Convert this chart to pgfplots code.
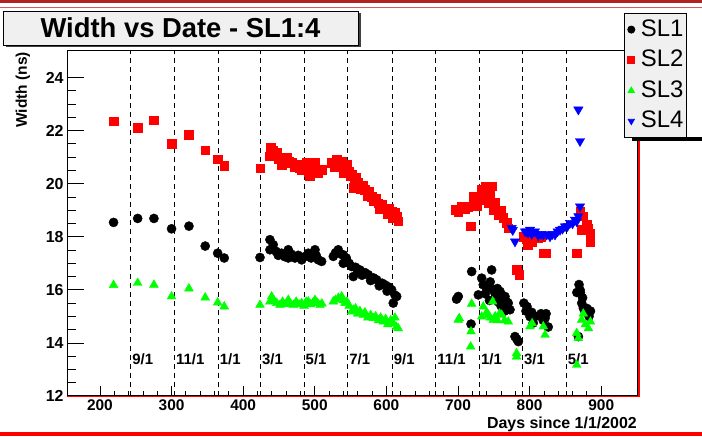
\documentclass[border=0pt]{standalone}
\usepackage{pgfplots}
\pgfplotsset{compat=1.18}
\usepackage{fontspec}
\setmainfont{Liberation Sans}
\definecolor{boxgray}{RGB}{240,240,240}
\definecolor{rootgreen}{RGB}{0,255,0}
\definecolor{rootblue}{RGB}{0,0,255}
\definecolor{rootred}{RGB}{255,0,0}
\definecolor{darkred}{RGB}{175,35,35}
\definecolor{pinkred}{RGB}{215,90,90}
\begin{document}
\begin{tikzpicture}[x=1bp,y=1bp]
\path[use as bounding box] (0,0) rectangle (702,439);
% canvas borders
\fill[darkred] (0,436.3) rectangle (702,439);
\fill[pinkred] (0,430.6) rectangle (702,432.2);
\fill[rootred] (0,3.3) rectangle (702,6.5);
% title box
\fill[black!75] (5.5,392) rectangle (360.5,426);
\filldraw[fill=boxgray, draw=black, line width=0.8] (3,394) rectangle (358,428);
\node[font=\bfseries\fontsize{27.5}{33}\selectfont] at (180.5,411) {Width vs Date - SL1:4};
% y label
\node[rotate=90, anchor=east, font=\bfseries\fontsize{15.5}{18}\selectfont, inner sep=0pt] at (23,387) {Width (ns)};
% x label
\node[anchor=east, font=\bfseries\fontsize{16}{19}\selectfont, inner sep=0pt] at (637,15) {Days since 1/1/2002};

% axis for x ticks
\begin{axis}[
  at={(67bp,43bp)}, anchor=south west, scale only axis, width=570bp, height=345bp,
  xmin=154, xmax=950, ymin=12, ymax=25,
  axis line style={line width=1bp},
  tick align=inside, xtick pos=left, ytick=\empty,
  xtick={200,300,...,900}, minor x tick num=4,
  major tick length=10bp, minor tick length=5bp,
  tick style={black, line width=0.8bp},
  xticklabel style={font=\bfseries\fontsize{15.5}{18}\selectfont},
  /pgf/number format/assume math mode=true,
]
\end{axis}

% main axis
\begin{axis}[
  at={(67bp,43bp)}, anchor=south west, scale only axis, width=570bp, height=345bp,
  xmin=154, xmax=950, ymin=12, ymax=25,
  axis line style={line width=1bp},
  tick align=inside, ytick pos=left, xtick=\empty,
  ytick={12,14,...,24}, minor y tick num=3,
  major tick length=17bp, minor tick length=8.5bp,
  tick style={black, line width=0.8bp},
  yticklabel style={font=\bfseries\fontsize{16}{18}\selectfont},
  /pgf/number format/assume math mode=true,
  clip=false,
  legend image code/.code={\draw[#1, mark size=3.6] plot coordinates {(0bp,0bp)};},
  legend cell align=left,
  legend style={at={(0.9777,1.111)}, anchor=north west, fill=boxgray, draw=black,
    line width=0.8bp, font=\fontsize{24}{28}\selectfont,
    inner xsep=3bp, inner ysep=6bp, row sep=9.5bp,
    nodes={inner sep=0bp, text height=17bp, text depth=4bp},
    /tikz/every odd column/.append style={column sep=6bp}},
]
% month separators
\foreach \d/\lab in {243/9\slash 1,304/11\slash 1,365/1\slash 1,424/3\slash 1,485/5\slash 1,546/7\slash 1,608/9\slash 1,669/11\slash 1,730/1\slash 1,790/3\slash 1,851/5\slash 1}{
  \edef\tmp{\noexpand\draw[black, line width=1bp, dash pattern=on 5bp off 4bp] (axis cs:\d,12) -- (axis cs:\d,25);}\tmp
  \edef\tmp{\noexpand\node[anchor=west, inner sep=1.5bp, font=\noexpand\bfseries\noexpand\fontsize{15}{18}\noexpand\selectfont] at (axis cs:\d,13.4) {\lab};}\tmp
}

\addplot[only marks, mark=*, mark size=4.6, black] coordinates {
(219,18.54) (252.7,18.69) (275.4,18.69) (300,18.30) (324.3,18.40) (347,17.65) (364.4,17.38) (373.6,17.20)
(423.5,17.22) (437.4,17.89) (437.4,17.51) (442,17.70) (446,17.45) (449,17.30) (453.7,17.38) (458,17.25)
(463,17.51) (463,17.20) (467,17.35) (472.3,17.20) (477,17.30) (481.7,17.13) (486,17.25) (490.9,17.38)
(495,17.20) (500.3,17.51) (502,17.30) (504.9,17.13) (509.6,17.07) (525.9,17.26) (529,17.40) (532.8,17.51)
(536,17.35) (539.8,17.32) (539.8,17.00) (544,17.20) (548,17.00) (551.5,16.88) (553.8,16.50) (557,16.85)
(560,16.70) (563,16.75) (566,16.55) (570,16.65) (574.7,16.57) (578,16.35) (582,16.45) (586.4,16.38)
(590,16.15) (594,16.25) (598,16.19) (601,15.95) (604,16.10) (607.4,16.00) (609.6,15.50) (612,15.80) (614.4,15.75)
(698,15.65) (700.4,15.75) (719.1,16.69) (718.2,14.71) (728.4,15.81) (733.1,16.44) (735.3,16.19) (738,15.85)
(740.1,16.06) (744,15.60) (745,16.30) (747,16.75) (749.3,16.00) (752,15.85) (755,16.05) (756,15.55)
(758.7,15.94) (760,15.40) (762,15.70) (765.6,15.75) (765,15.20) (768,15.55) (770.2,15.50) (772.6,15.25)
(779.6,14.24) (782,14.15) (784.3,14.05) (792,15.50) (795,15.20) (796.4,15.37) (800.6,14.99) (803,15.15)
(805,14.75) (808,15.00) (816,15.10) (819,14.85) (821.6,14.93) (823,15.10) (826,14.60)
(866,15.90) (868.1,14.24) (869,16.20) (870.4,16.00) (871,15.90) (872.8,15.50) (874,15.70) (875.1,15.31)
(877.4,15.18) (880,15.30) (883,15.00) (885,15.20)
};
\addlegendentry{SL1\hspace{40bp}}

\addplot[only marks, mark=square*, mark size=4.3, rootred] coordinates {
(219,22.35) (252.7,22.10) (275.4,22.40) (300,21.50) (324.3,21.84) (347,21.26) (364.4,20.93) (373.6,20.68)
(423.5,20.59) (437.4,21.03) (438.8,21.35) (442,21.25) (446.8,21.16) (450,20.95) (453.7,20.72) (457,20.85)
(460.7,20.97) (464,20.85) (467.7,20.78) (471,20.65) (474.7,20.72) (478,20.60) (481.7,20.53) (485,20.70)
(488.7,20.78) (491,20.45) (493.3,20.28) (497,20.60) (500.3,20.78) (503,20.55) (505,20.40) (509.6,20.53)
(523.6,20.78) (527,20.65) (530.6,20.90) (534,20.75) (537.6,20.84) (539.8,20.40) (542,20.60) (544.5,20.72)
(547,20.45) (549.2,20.28) (551.5,20.34) (553.8,19.84) (556,20.15) (558,20.25) (560.8,20.03) (564,19.80)
(567,19.95) (570.1,19.77) (573,19.55) (576,19.70) (579.5,19.52) (582,19.35) (585,19.45) (588.7,19.27)
(591,19.05) (594,19.20) (598,19.08) (601,18.85) (604,19.05) (607.4,18.96) (609,18.70) (612,18.90)
(614.4,18.77) (616.6,18.58)
(695.8,19.02) (700,18.95) (705.1,19.14) (710,19.05) (714.4,19.14) (717.7,18.39) (721.4,19.52) (723.7,19.27)
(727,19.15) (733.1,19.77) (733.1,19.40) (737.7,19.90) (742.3,19.27) (745,19.55) (747,19.90) (749.3,19.02)
(752,19.30) (756.3,18.83) (760,19.00) (763.3,18.71) (768,18.52) (770.2,18.33) (781.8,16.75) (785.6,16.57)
(791.9,18.01) (795,17.90) (797,17.70) (800.6,17.82) (803.5,17.82) (808,18.05) (812,17.95) (815.1,18.01)
(819.2,17.38) (822.1,17.38) (865.8,17.38) (870.4,18.96) (872.8,18.26) (875.1,18.77) (879.7,18.45)
(882,18.30) (884.4,18.14) (884.4,17.82)
};
\addlegendentry{SL2}

\addplot[only marks, mark=triangle*, mark size=5.1, rootgreen] coordinates {
(219,16.18) (252.7,16.26) (275.4,16.19) (300,15.75) (324.3,16.05) (347,15.71) (364.4,15.52) (373.6,15.37)
(423.5,15.43) (437.4,15.56) (439.8,15.75) (443,15.60) (447,15.50) (451.4,15.43) (455,15.55) (459,15.45)
(463,15.62) (466,15.48) (470,15.43) (474,15.55) (478,15.45) (481.7,15.50) (485,15.40) (488,15.55)
(490.9,15.56) (494,15.45) (497,15.50) (500.3,15.62) (504,15.50) (507.3,15.43) (510,15.48) (525.9,15.56)
(529,15.62) (533,15.70) (537.6,15.75) (540,15.60) (542.2,15.50) (545,15.55) (548,15.40) (551.5,15.18)
(553.8,15.25) (557,15.30) (560,15.10) (563,15.20) (567.7,15.06) (570,15.15) (574,14.95) (578,15.05)
(581.7,14.93) (585,15.00) (589,14.85) (592,14.95) (595.7,14.80) (599,14.90) (602,14.70) (606,14.85)
(609.6,14.74) (612,14.95) (614,14.60) (616.6,14.55)
(700.4,14.87) (701.8,14.93) (717.7,13.86) (718.2,14.43) (719.1,15.47) (733.1,14.99) (735.3,15.37) (740,15.15)
(742.3,15.06) (745,14.95) (748.4,15.56) (749.3,14.87) (752,15.00) (755,14.85) (758,15.10) (761,15.06)
(765,14.85) (770.2,14.80) (781.8,13.61) (781.8,13.48) (800.6,14.62) (803.5,14.74) (819.2,14.62) (821.6,14.30)
(865.8,13.17) (868.1,14.18) (865.8,14.37) (872.8,14.87) (875,15.10) (878,14.70) (882.1,14.55) (885,14.80)
};
\addlegendentry{SL3}

\addplot[only marks, mark=triangle*, mark size=5.4, rootblue, mark options={rotate=180}] coordinates {
(775,18.33) (776.5,18.25) (779.6,17.82) (793.6,18.20) (795.9,18.20) (798,18.15) (800.6,18.26) (803,18.10)
(807.5,18.20) (812,18.05) (816,18.10) (819.2,18.08) (823.9,18.08) (828.5,18.01) (832,18.10) (835.5,18.08)
(839,18.20) (842.5,18.26) (846,18.30) (849.4,18.39) (853,18.40) (856.4,18.52) (860,18.50) (863.4,18.64)
(865.8,18.58) (868.1,18.77) (868.1,22.79) (870.4,21.60) (870.4,19.14)
};
\addlegendentry{SL4}
\end{axis}
% red frame edges and legend shadow
\draw[rootred, line width=1.2] (67,42.1) -- (638.9,42.1) -- (638.9,299);
\fill[black] (632,298.3) rectangle (702,302);
\end{tikzpicture}
\end{document}
